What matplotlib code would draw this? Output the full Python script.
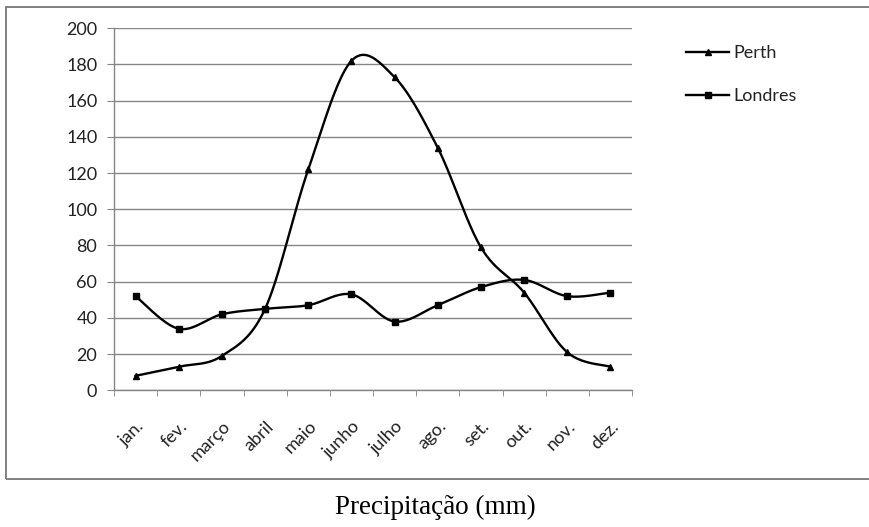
import numpy as np
import matplotlib
matplotlib.use("Agg")
import matplotlib.pyplot as plt
from matplotlib.patches import Rectangle
from matplotlib.lines import Line2D

meses = ["jan.", "fev.", "março", "abril", "maio", "junho",
         "julho", "ago.", "set.", "out.", "nov.", "dez."]
perth = [8, 13, 19, 45, 122, 182, 173, 134, 79, 54, 21, 13]
londres = [52, 34, 42, 45, 47, 53, 38, 47, 57, 61, 52, 54]

y_ticks = list(range(0, 201, 20))
titulo = "Precipitação (mm)"

plt.rcParams['font.family'] = ['Lato', 'DejaVu Sans']


def suaviza(x, y, n=40):
    # curva suave tipo Excel (Bezier com tangentes de Catmull-Rom)
    x = np.asarray(x, float)
    y = np.asarray(y, float)
    px = np.concatenate([[x[0]], x, [x[-1]]])
    py = np.concatenate([[y[0]], y, [y[-1]]])
    xs, ys = [], []
    t = np.linspace(0, 1, n)
    for i in range(1, len(px) - 2):
        p0 = np.array([px[i], py[i]])
        p3 = np.array([px[i + 1], py[i + 1]])
        p1 = p0 + (p3 - np.array([px[i - 1], py[i - 1]])) / 6
        p2 = p3 - (np.array([px[i + 2], py[i + 2]]) - p0) / 6
        b = ((1 - t) ** 3)[:, None] * p0 + (3 * (1 - t) ** 2 * t)[:, None] * p1 \
            + (3 * (1 - t) * t ** 2)[:, None] * p2 + (t ** 3)[:, None] * p3
        xs.extend(b[:, 0])
        ys.extend(b[:, 1])
    return np.array(xs), np.array(ys)


fig = plt.figure(figsize=(8.69, 5.27), dpi=100)
ax = fig.add_axes([114 / 869, 1 - 390.3 / 527, (632 - 114) / 869, (390.3 - 28.3) / 527])

x = np.arange(len(meses))
cinza = "#868686"

for serie, marcador in [(perth, "^"), (londres, "s")]:
    sx, sy = suaviza(x, serie)
    ax.plot(sx, sy, color="black", lw=1.7, zorder=3)
    ax.plot(x, serie, linestyle="none", marker=marcador, ms=5, color="black", zorder=4)

ax.set_xlim(-0.5, len(meses) - 0.5)
ax.set_ylim(0, 200)
ax.set_yticks(y_ticks)
ax.yaxis.grid(True, color=cinza, lw=1)
ax.set_axisbelow(True)

ax.set_xticks(x)
ax.set_xticklabels(meses, rotation=45, ha="right", rotation_mode="anchor")
ax.set_xticks(np.arange(-0.5, len(meses)), minor=True)
ax.tick_params(axis="x", which="major", length=0, pad=20, labelsize=13, labelcolor="#222222")
ax.tick_params(axis="x", which="minor", length=4.5, color=cinza, direction="out")
ax.tick_params(axis="y", length=5, color=cinza, pad=7, labelsize=13, labelcolor="#222222")

for s in ["top", "right"]:
    ax.spines[s].set_visible(False)
for s in ["left", "bottom"]:
    ax.spines[s].set_color(cinza)
    ax.spines[s].set_linewidth(1)

alcas = [Line2D([], [], color="black", lw=1.7, marker="^", ms=5),
         Line2D([], [], color="black", lw=1.7, marker="s", ms=4)]
fig.legend(alcas, ["Perth", "Londres"], loc="upper left",
           bbox_to_anchor=(686 / 869, 1 - 45 / 527), frameon=False,
           fontsize=13, handlelength=2.4, handletextpad=0.2,
           labelspacing=1.5, borderpad=0, borderaxespad=0,
           labelcolor="#222222")

fig.patches.append(Rectangle((6 / 869, 1 - 479 / 527), 1, (479 - 7) / 527,
                             transform=fig.transFigure, fill=False,
                             edgecolor="#777777", lw=1.3))

fig.text(435 / 869, 1 - 507 / 527, titulo, ha="center", va="center",
         fontsize=19.5, family=["Liberation Serif", "DejaVu Serif"])

fig.savefig("out.png", dpi=100)
